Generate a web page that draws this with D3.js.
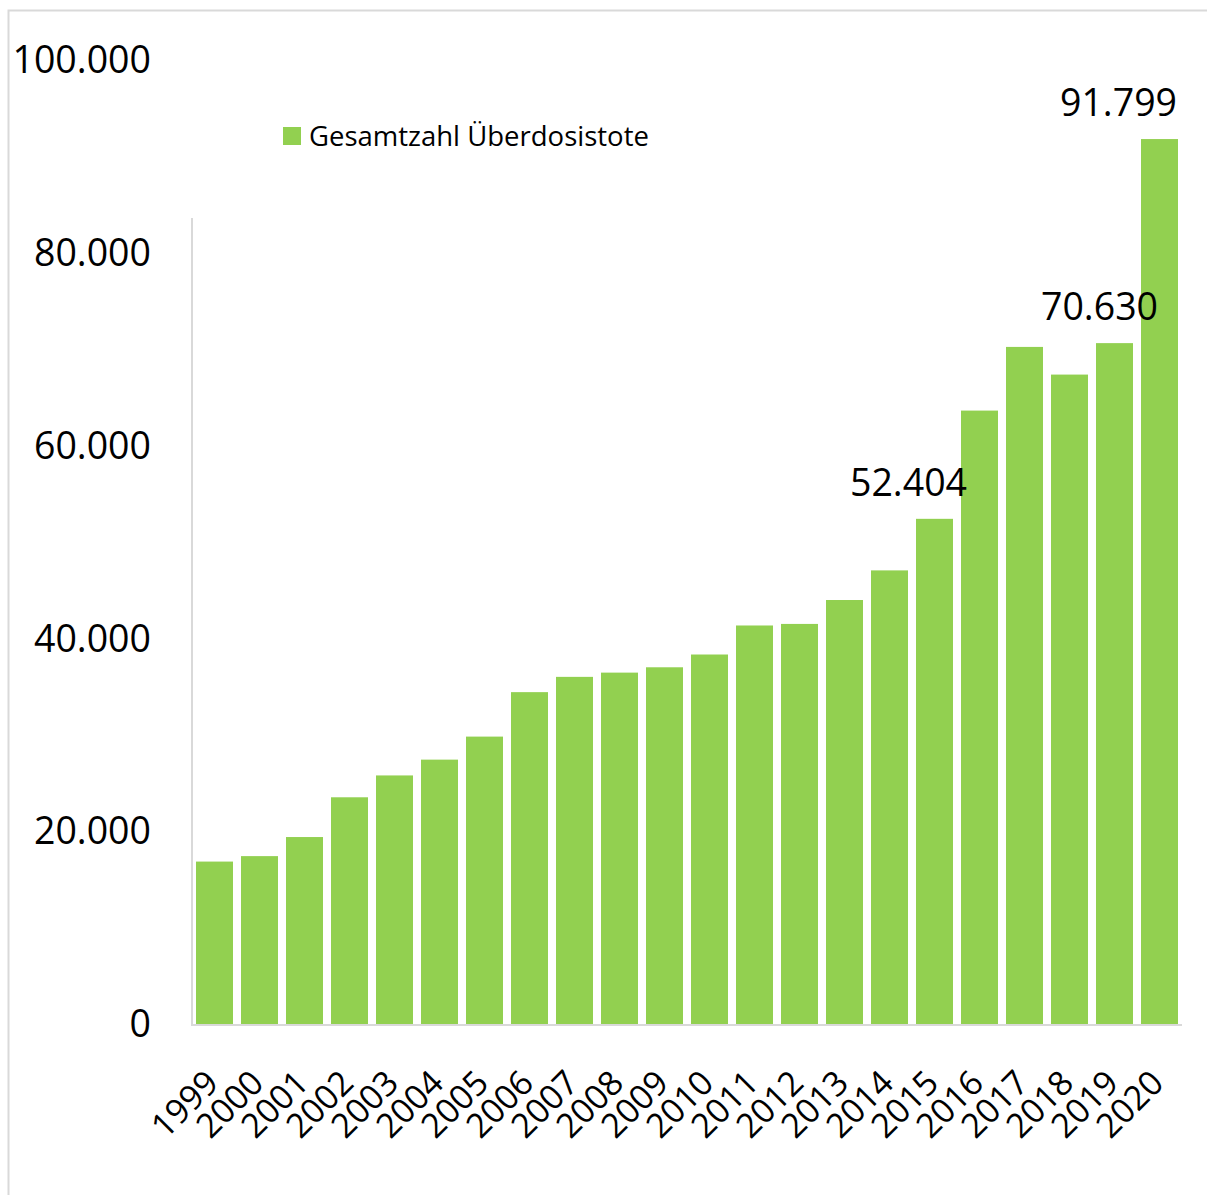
<!DOCTYPE html>
<html><head><meta charset="utf-8">
<script src="https://cdn.jsdelivr.net/npm/d3@7"></script>
<style>
body{margin:0;background:#fff;}
text{font-family:"Open Sans",sans-serif;fill:#000;}
</style></head>
<body>
<svg id="chart" width="1207" height="1195"></svg>
<script>
const years = ["1999","2000","2001","2002","2003","2004","2005","2006","2007","2008","2009","2010","2011","2012","2013","2014","2015","2016","2017","2018","2019","2020"];
const deaths = [16849,17415,19394,23518,25785,27424,29813,34425,36010,36450,37004,38329,41340,41502,43982,47055,52404,63632,70237,67367,70630,91799];
const labelledYears = ["2015","2019","2020"];
const yTicks = [0,20000,40000,60000,80000,100000];
const seriesName = "Gesamtzahl Überdosistote";

const svg = d3.select("#chart");
const fmt = v => d3.format(",")(v).replace(/,/g,".");

// chart border
svg.append("rect").attr("x",8.5).attr("y",10.5).attr("width",1300).attr("height",1300)
  .attr("fill","none").attr("stroke","#d9d9d9").attr("stroke-width",2);

const x = d3.scaleBand().domain(years).range([192,1182]).paddingInner(8/45).paddingOuter(4/45);
const y = d3.scaleLinear().domain([0,100000]).range([1024,60]);

// bars
svg.append("g").selectAll("rect").data(years).join("rect")
  .attr("x",d=>x(d)).attr("width",x.bandwidth())
  .attr("y",(d,i)=>y(deaths[i])).attr("height",(d,i)=>y(0)-y(deaths[i]))
  .attr("fill","#92d050");

// axis lines
svg.append("line").attr("x1",192).attr("x2",192).attr("y1",218).attr("y2",1025)
  .attr("stroke","#d9d9d9").attr("stroke-width",2);
svg.append("line").attr("x1",191).attr("x2",1182).attr("y1",y(0)+1).attr("y2",y(0)+1)
  .attr("stroke","#d9d9d9").attr("stroke-width",2);

// y tick labels
svg.append("g").selectAll("text").data(yTicks).join("text")
  .attr("x",151).attr("y",d=>y(d)).attr("dy","0.35em")
  .attr("text-anchor","end").attr("font-size",37.5).text(d=>fmt(d));

// x labels
svg.append("g").selectAll("text").data(years).join("text")
  .attr("transform",d=>`translate(${x(d)+x.bandwidth()/2+6},${y(0)+61}) rotate(-45)`)
  .attr("text-anchor","end").attr("font-size",34).text(d=>d);

// data labels
const labelDx = {"2015":-26,"2019":-15,"2020":-41};
svg.append("g").selectAll("text").data(labelledYears).join("text")
  .attr("x",d=>x(d)+x.bandwidth()/2+labelDx[d])
  .attr("y",d=>y(deaths[years.indexOf(d)])-23)
  .attr("text-anchor","middle").attr("font-size",37.5)
  .text(d=>fmt(deaths[years.indexOf(d)]));

// legend
const lg = svg.append("g").attr("transform","translate(283,127)");
lg.append("rect").attr("width",18).attr("height",18).attr("fill","#92d050");
lg.append("text").attr("x",26).attr("y",9).attr("dy","0.35em").attr("font-size",27.5).text(seriesName);
</script>
</body></html>
